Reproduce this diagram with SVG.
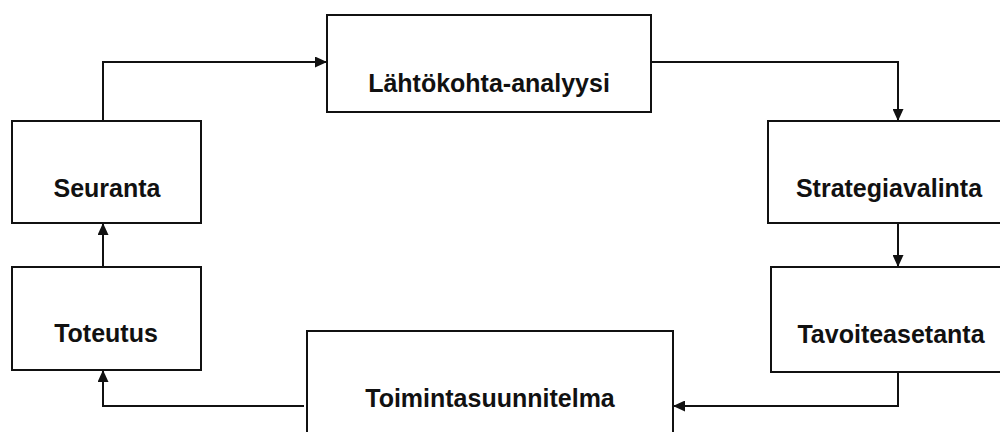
<svg xmlns="http://www.w3.org/2000/svg" width="1000" height="432" viewBox="0 0 1000 432">
  <style>
    .box { fill: #fff; stroke: #111; stroke-width: 2; }
    .lbl { font-family: "Liberation Sans", Arial, sans-serif; font-weight: bold; font-size: 25px; fill: #111; text-anchor: middle; }
    .link { fill: none; stroke: #111; stroke-width: 2; marker-end: url(#head); }
  </style>
  <defs>
    <marker id="head" viewBox="0 0 12 11" refX="12" refY="5.5" markerWidth="12" markerHeight="11" markerUnits="userSpaceOnUse" orient="auto">
      <path d="M0,0 L12,5.5 L0,11 Z" fill="#111"/>
    </marker>
  </defs>

  <g id="connectors">
    <path class="link" d="M103,121 V62 H327"/>
    <path class="link" d="M651,62 H898 V121"/>
    <path class="link" d="M898,223 V267"/>
    <path class="link" d="M898,372 V406 H673"/>
    <path class="link" d="M304,406 H103 V370"/>
    <path class="link" d="M103,267 V223"/>
  </g>

  <g id="lahtokohta">
    <rect class="box" x="327" y="15" width="324" height="97"/>
    <text class="lbl" x="489" y="92">Lähtökohta-analyysi</text>
  </g>
  <g id="strategiavalinta">
    <rect class="box" x="768" y="121" width="242" height="102"/>
    <text class="lbl" x="889" y="197">Strategiavalinta</text>
  </g>
  <g id="tavoiteasetanta">
    <rect class="box" x="771" y="267" width="240" height="105"/>
    <text class="lbl" x="891" y="343">Tavoiteasetanta</text>
  </g>
  <g id="toimintasuunnitelma">
    <rect class="box" x="307" y="331" width="366" height="130"/>
    <text class="lbl" x="490" y="407">Toimintasuunnitelma</text>
  </g>
  <g id="toteutus">
    <rect class="box" x="12" y="267" width="189" height="103"/>
    <text class="lbl" x="106" y="342">Toteutus</text>
  </g>
  <g id="seuranta">
    <rect class="box" x="12" y="121" width="189" height="102"/>
    <text class="lbl" x="107" y="197">Seuranta</text>
  </g>
</svg>
